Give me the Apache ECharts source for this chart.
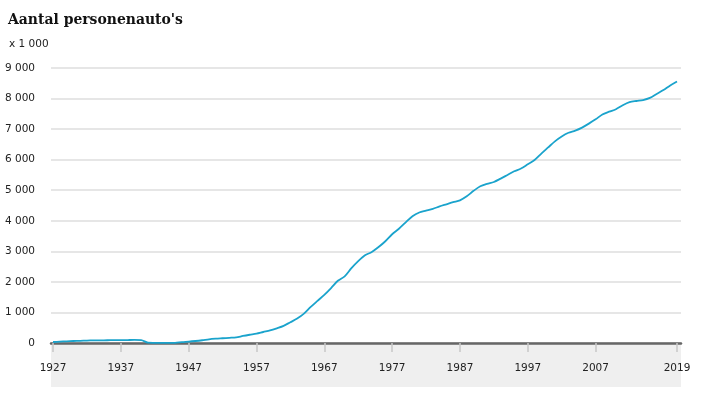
<!DOCTYPE html>
<html>
<head>
<meta charset="utf-8">
<script src="https://cdn.jsdelivr.net/npm/echarts@6/dist/echarts.min.js"></script>
<style>
html,body{margin:0;padding:0;background:#fff;}
#chart{width:702px;height:395px;}
</style>
</head>
<body>
<div id="chart"></div>
<script>
const title = "Aantal personenauto's";
const unitLabel = "x 1 000";
const years = [];
for (let y = 1927; y <= 2019; y++) years.push(y);
const cars = [
  33, 45, 55, 65, 72, 80, 85, 88, 90, 92,
  94, 97, 100, 95, 10, 5, 3, 2, 5, 30,
  45, 65, 90, 120, 140, 155, 170, 185, 230, 270,
  307, 360, 410, 480, 560, 680, 800, 960, 1180, 1380,
  1577, 1800, 2037, 2180, 2450, 2680, 2870, 2980, 3140, 3330,
  3560, 3740, 3950, 4150, 4270, 4330, 4390, 4470, 4540, 4610,
  4670, 4800, 4980, 5130, 5210, 5270, 5380, 5500, 5620, 5710,
  5850, 5990, 6200, 6400, 6600, 6760, 6880, 6950, 7050, 7180,
  7320, 7480, 7570, 7650, 7780, 7880, 7920, 7950, 8020, 8150,
  8280, 8430, 8560
];
const xTicks = [1927, 1937, 1947, 1957, 1967, 1977, 1987, 1997, 2007, 2019];
const yTicks = [0, 1000, 2000, 3000, 4000, 5000, 6000, 7000, 8000, 9000];

const fmt = v => String(v).replace(/\B(?=(\d{3})+(?!\d))/g, ' ');
const chart = echarts.init(document.getElementById('chart'), null, {renderer: 'canvas'});
chart.setOption({
  animation: false,
  backgroundColor: '#fff',
  title: [
    {text: title, left: 8, top: 12, padding: 0,
     textStyle: {fontFamily: 'DejaVu Serif Condensed, DejaVu Serif', fontWeight: 'bold', fontSize: 15.5, color: '#111'}},
    {text: unitLabel, left: 9, top: 39, padding: 0,
     textStyle: {fontFamily: 'DejaVu Sans', fontWeight: 'normal', fontSize: 10.5, color: '#222'}}
  ],
  graphic: [
    {type: 'rect', z: -10, shape: {x: 51, y: 343, width: 630, height: 44}, style: {fill: '#efefef'}}
  ],
  grid: {left: 51, right: 21, top: 68, bottom: 52},
  xAxis: {
    type: 'value',
    min: 1926.705, max: 2019.59,
    axisLine: {show: true, onZero: false, lineStyle: {color: '#666', width: 2.5}},
    axisTick: {show: true, customValues: xTicks, length: 9, lineStyle: {color: '#c8c8c8', width: 1.5}},
    axisLabel: {customValues: xTicks, formatter: v => String(v), margin: 20,
      fontFamily: 'DejaVu Sans', fontSize: 10.5, color: '#222'},
    splitLine: {show: false}
  },
  yAxis: {
    type: 'value', min: 0, max: 9000, interval: 1000,
    axisLine: {show: false}, axisTick: {show: false},
    axisLabel: {formatter: v => fmt(v), margin: 16, fontFamily: 'DejaVu Sans', fontSize: 10.5, color: '#222'},
    splitLine: {lineStyle: {color: '#e6e6e6', width: 2}}
  },
  series: [{
    type: 'line',
    data: years.map((y, i) => [y, cars[i]]),
    showSymbol: false,
    smooth: 0.3,
    lineStyle: {color: '#1aa3cc', width: 1.8},
    z: 3
  }]
});
</script>
</body>
</html>
